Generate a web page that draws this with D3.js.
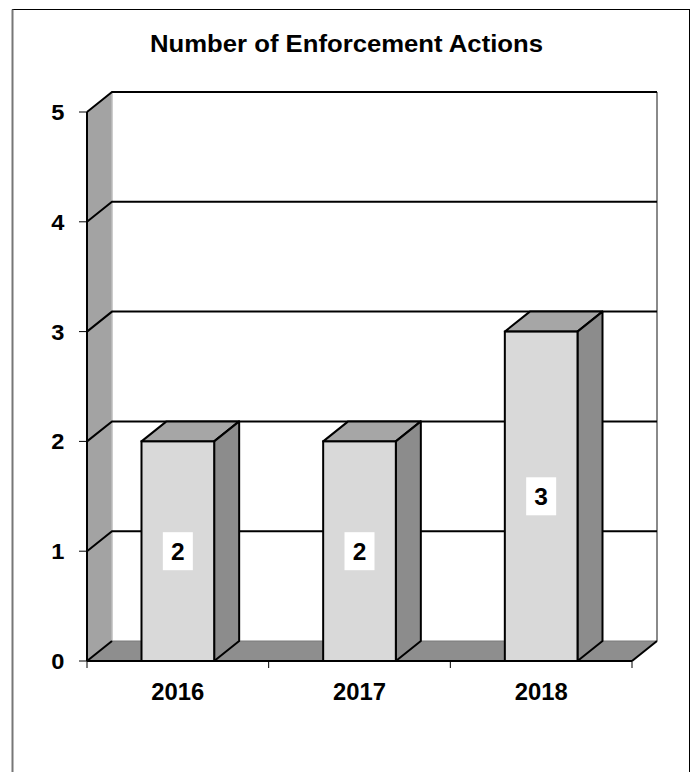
<!DOCTYPE html>
<html><head><meta charset="utf-8">
<script src="https://cdn.jsdelivr.net/npm/d3@7"></script>
<style>body{margin:0;background:#fff}svg{display:block}text{font-family:"Liberation Sans",Arial,sans-serif;font-weight:bold}</style>
</head><body>
<svg id="c" width="698" height="772"></svg>
<script>
const title = "Number of Enforcement Actions";
const categories = ["2016", "2017", "2018"];
const values = [2, 2, 3];
const yTicks = [0, 1, 2, 3, 4, 5];

const svg = d3.select("#c");
const DX = 25, DY = -20;
const x = d3.scaleBand().domain(categories).range([87, 632]).paddingInner(0.6).paddingOuter(0.3);
const y = d3.scaleLinear().domain([0, 5]).range([661, 112]);
const x0 = 87, x1 = 632;
function widen(target){ return sel => sel.each(function(){ d3.select(this).attr("textLength", target).attr("lengthAdjust","spacingAndGlyphs"); }); }
function stretch(f){ return sel => sel.each(function(){ const w=this.getComputedTextLength(); d3.select(this).attr("textLength", w*f).attr("lengthAdjust","spacingAndGlyphs"); }); }

// outer frame
svg.append("rect").attr("x",12.5).attr("y",9.5).attr("width",677).attr("height",800)
  .attr("fill","none").attr("stroke","#000").attr("stroke-width",1);
svg.append("line").attr("x1",12.5).attr("x2",12.5).attr("y1",9.5).attr("y2",772).attr("stroke","#777").attr("stroke-width",2);

// title
svg.append("text").attr("x",346.5).attr("y",52).attr("text-anchor","middle").attr("font-size",23.5).text(title).call(widen(393));

const line = d3.line();
// left wall
svg.append("path").attr("d", line([[x0,y(0)],[x0,y(5)],[x0+DX,y(5)+DY],[x0+DX,y(0)+DY]])+"Z").attr("fill","#a3a3a3");
// floor
svg.append("path").attr("d", line([[x0,y(0)],[x1,y(0)],[x1+DX,y(0)+DY],[x0+DX,y(0)+DY]])+"Z").attr("fill","#8e8e8e");
// wall inner edges (gray)
svg.append("line").attr("x1",x0+DX).attr("x2",x0+DX).attr("y1",y(5)+DY).attr("y2",y(0)+DY).attr("stroke","#bdbdbd").attr("stroke-width",1.5);
svg.append("line").attr("x1",x1+DX).attr("x2",x1+DX).attr("y1",y(5)+DY).attr("y2",y(0)+DY).attr("stroke","#8a8a8a").attr("stroke-width",2);
svg.append("line").attr("x1",x0+DX).attr("x2",x1+DX).attr("y1",y(0)+DY).attr("y2",y(0)+DY).attr("stroke","#7a7a7a").attr("stroke-width",1);

// gridlines
yTicks.forEach(t => {
  const pts = t === 0 ? [[x0,y(t)],[x0+DX,y(t)+DY]] : [[x0,y(t)],[x0+DX,y(t)+DY],[x1+DX,y(t)+DY]];
  svg.append("path").attr("d", line(pts)).attr("fill","none").attr("stroke","#000").attr("stroke-width",2);
});
// floor right diagonal
svg.append("line").attr("x1",x1).attr("y1",y(0)).attr("x2",x1+DX).attr("y2",y(0)+DY).attr("stroke","#000").attr("stroke-width",2);

// bars
const g = svg.append("g");
categories.forEach((c,i) => {
  const bx = x(c), bw = x.bandwidth(), top = y(values[i]), bot = y(0);
  const sw = 2;
  g.append("path").attr("d", line([[bx,top],[bx+DX,top+DY],[bx+bw+DX,top+DY],[bx+bw,top]])+"Z")
    .attr("fill","#a6a6a6").attr("stroke","#000").attr("stroke-width",sw).attr("stroke-linejoin","round");
  g.append("path").attr("d", line([[bx+bw,top],[bx+bw+DX,top+DY],[bx+bw+DX,bot+DY],[bx+bw,bot]])+"Z")
    .attr("fill","#8c8c8c").attr("stroke","#000").attr("stroke-width",sw).attr("stroke-linejoin","round");
  g.append("rect").attr("x",bx).attr("y",top).attr("width",bw).attr("height",bot-top)
    .attr("fill","#d9d9d9").attr("stroke","#000").attr("stroke-width",sw);
  const cx = bx + bw/2, cy = (top+bot)/2;
  g.append("rect").attr("x",cx-15).attr("y",cy-19).attr("width",30).attr("height",38).attr("fill","#fff");
  g.append("text").attr("x",cx).attr("y",cy+9).attr("text-anchor","middle").attr("font-size",24.5).text(values[i]);
});

// axes
svg.append("line").attr("x1",x0).attr("x2",x0).attr("y1",y(5)).attr("y2",y(0)).attr("stroke","#000").attr("stroke-width",2);
svg.append("line").attr("x1",x0).attr("x2",x1).attr("y1",y(0)).attr("y2",y(0)).attr("stroke","#000").attr("stroke-width",2);
yTicks.forEach(t => {
  svg.append("line").attr("x1",79).attr("x2",x0).attr("y1",y(t)).attr("y2",y(t)).attr("stroke","#000").attr("stroke-width",1);
  svg.append("text").attr("x",64.5).attr("y",y(t)+8).attr("text-anchor","end").attr("font-size",22.5).text(t).call(stretch(1.05));
});
const step = x.step();
d3.range(categories.length+1).forEach(k => {
  const tx = x0 + k*step;
  svg.append("line").attr("x1",tx).attr("x2",tx).attr("y1",y(0)).attr("y2",y(0)+7).attr("stroke","#000").attr("stroke-width",1);
});
categories.forEach(c => {
  svg.append("text").attr("x",x(c)+x.bandwidth()/2).attr("y",699.5).attr("text-anchor","middle").attr("font-size",23).text(c).call(widen(53));
});
</script>
</body></html>
